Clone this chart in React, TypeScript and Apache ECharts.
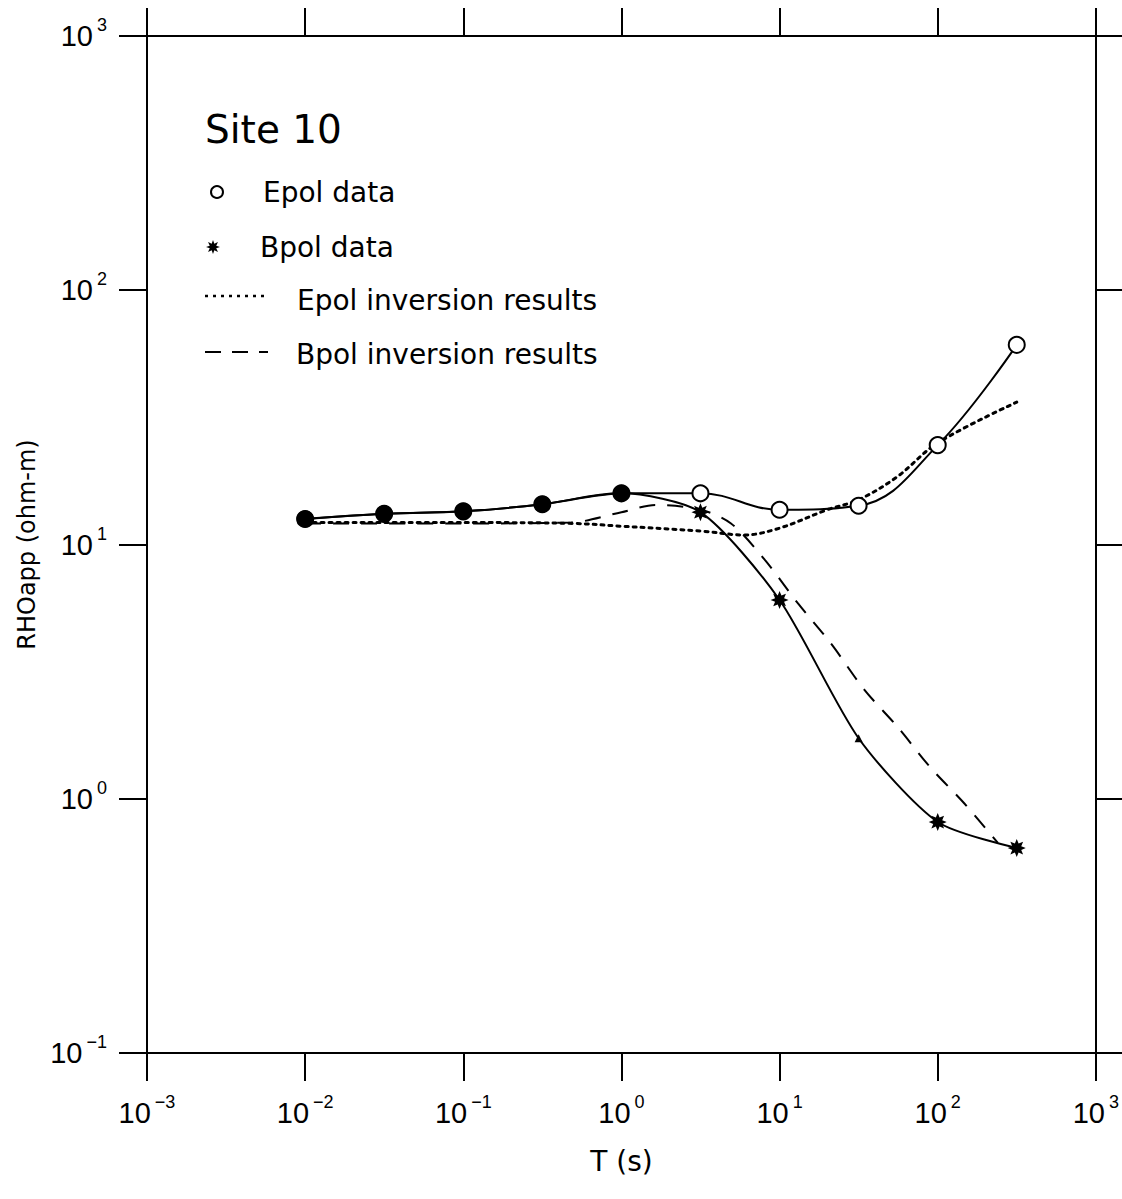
import React, { useEffect, useRef } from "react";
import * as echarts from "echarts";

// ---- data ----
const periods = [0.01, 0.0316, 0.1, 0.316, 1, 3.16, 10, 31.6, 100, 316];
const epolRho = [12.6, 13.2, 13.5, 14.4, 15.9, 15.9, 13.7, 14.2, 24.6, 61];
const bpolRho = [12.6, 13.2, 13.5, 14.4, 15.9, 13.4, 6.05, 1.73, 0.81, 0.64];

const epolInvT = [0.01, 0.1, 0.5, 1, 3.16, 6, 10, 20, 31.6, 55, 100, 316];
const epolInvRho = [12.2, 12.2, 12.1, 11.8, 11.3, 10.9, 11.6, 13.7, 15.0, 18.4, 25.1, 36.3];

const bpolInvT = [0.01, 0.1, 0.48, 1, 1.64, 3.16, 4.93, 8.07, 13, 21, 34.4, 55.6, 89.7, 147, 240];
const bpolInvRho = [12.1, 12.1, 12.2, 13.4, 14.3, 13.7, 12.1, 8.7, 5.89, 4.1, 2.68, 1.92, 1.33, 0.96, 0.67];

const xRange = [0.001, 1000];
const yRange = [0.1, 1000];

const title = "Site 10";
const legendLabels = ["Epol data", "Bpol data", "Epol inversion results", "Bpol inversion results"];
const xName = "T (s)";
const yName = "RHOapp (ohm-m)";

const FONT = "DejaVu Sans";
const TICK_FONT = "Liberation Sans";

const STAR =
  "path://M20 10L15 12.07L17.07 17.07L12.07 15L10 20L7.93 15L2.93 17.07L5 12.07L0 10L5 7.93L2.93 2.93L7.93 5L10 0L12.07 5L17.07 2.93L15 7.93Z";

function starPoints(cx: number, cy: number, R: number, r: number) {
  const pts: number[][] = [];
  for (let i = 0; i < 16; i++) {
    const a = (i * Math.PI) / 8;
    const rad = i % 2 === 0 ? R : r;
    pts.push([cx + rad * Math.cos(a), cy + rad * Math.sin(a)]);
  }
  return pts;
}

const expLabel = (v: number) => {
  const e = Math.round(Math.log10(v));
  const s = e < 0 ? "\u2212" + Math.abs(e) : String(e);
  return `{b|10}{s|${s}}`;
};

const richStyle = {
  b: { fontSize: 29, fontFamily: TICK_FONT, color: "#000", lineHeight: 40 },
  s: { fontSize: 18, fontFamily: TICK_FONT, color: "#000", verticalAlign: "top" as const, padding: [0, 0, 0, 4] },
};

export default function App() {
  const ref = useRef<HTMLDivElement>(null);

  useEffect(() => {
    if (!ref.current) return;
    const chart = echarts.init(ref.current, null, { renderer: "svg" });

    const axisLine = { show: true, lineStyle: { color: "#000", width: 2 } };
    const axisTick = { show: true, inside: false, length: 28, lineStyle: { color: "#000", width: 2 } };

    const xAxisBase = {
      type: "log" as const,
      logBase: 10,
      min: xRange[0],
      max: xRange[1],
      axisLine,
      axisTick,
      splitLine: { show: false },
      minorTick: { show: false },
    };
    const yAxisBase = {
      type: "log" as const,
      logBase: 10,
      min: yRange[0],
      max: yRange[1],
      axisLine,
      axisTick,
      splitLine: { show: false },
      minorTick: { show: false },
    };

    const bpolPoints = periods.map((t, i) => {
      const overlap = epolRho[i] === bpolRho[i];
      if (overlap) {
        return { value: [t, bpolRho[i]], symbol: "circle", symbolSize: 17 };
      }
      if (t === 31.6) {
        return { value: [t, bpolRho[i]], symbol: "triangle", symbolSize: 8 };
      }
      return { value: [t, bpolRho[i]] };
    });

    const legendY = [192, 247, 300, 354];

    chart.setOption({
      animation: false,
      backgroundColor: "#fff",
      grid: { left: 147, top: 36, width: 952, height: 1017, containLabel: false },
      xAxis: [
        {
          ...xAxisBase,
          position: "bottom",
          name: xName,
          nameLocation: "middle",
          nameGap: 94,
          nameTextStyle: { fontSize: 28, fontFamily: FONT, color: "#000" },
          axisLabel: { show: true, margin: 40, formatter: expLabel, rich: richStyle },
        },
        {
          ...xAxisBase,
          position: "top",
          axisLabel: { show: false },
        },
      ],
      yAxis: [
        {
          ...yAxisBase,
          position: "left",
          name: yName,
          nameLocation: "middle",
          nameGap: 102,
          nameTextStyle: { fontSize: 24, fontFamily: FONT, color: "#000" },
          axisLabel: { show: true, margin: 40, formatter: expLabel, rich: richStyle },
        },
        {
          ...yAxisBase,
          position: "right",
          axisLabel: { show: false },
        },
      ],
      series: [
        {
          name: legendLabels[2],
          type: "line",
          data: epolInvT.map((t, i) => [t, epolInvRho[i]]),
          smooth: 0.35,
          showSymbol: false,
          lineStyle: { color: "#000", width: 3, type: [3, 5], cap: "round" },
          z: 2,
        },
        {
          name: legendLabels[3],
          type: "line",
          data: bpolInvT.map((t, i) => [t, bpolInvRho[i]]),
          smooth: 0.3,
          showSymbol: false,
          lineStyle: { color: "#000", width: 2, type: [16, 12] },
          z: 2,
        },
        {
          name: legendLabels[0],
          type: "line",
          data: periods.map((t, i) => [t, epolRho[i]]),
          smooth: 0.4,
          symbol: "circle",
          symbolSize: 16,
          showAllSymbol: true,
          lineStyle: { color: "#000", width: 2 },
          itemStyle: { color: "#fff", borderColor: "#000", borderWidth: 2 },
          z: 3,
        },
        {
          name: legendLabels[1],
          type: "line",
          data: bpolPoints,
          smooth: 0.25,
          symbol: STAR,
          symbolSize: 18,
          showAllSymbol: true,
          lineStyle: { color: "#000", width: 2 },
          itemStyle: { color: "#000", borderWidth: 0 },
          z: 4,
        },
      ],
      graphic: [
        {
          type: "text",
          left: 205,
          top: 132 - 22,
          style: { text: title, font: `39px '${FONT}'`, fill: "#000" },
        },
        {
          type: "circle",
          shape: { cx: 217, cy: legendY[0], r: 6 },
          style: { fill: "none", stroke: "#000", lineWidth: 2 },
        },
        {
          type: "text",
          x: 263,
          y: legendY[0],
          style: { text: legendLabels[0], font: `28px '${FONT}'`, fill: "#000", verticalAlign: "middle" },
        },
        {
          type: "polygon",
          shape: { points: starPoints(213, legendY[1], 7, 3.5) },
          style: { fill: "#000" },
        },
        {
          type: "text",
          x: 260,
          y: legendY[1],
          style: { text: legendLabels[1], font: `28px '${FONT}'`, fill: "#000", verticalAlign: "middle" },
        },
        {
          type: "line",
          shape: { x1: 205, y1: legendY[2] - 4, x2: 268, y2: legendY[2] - 4 },
          style: { stroke: "#000", lineWidth: 2.5, lineDash: [3, 5] },
        },
        {
          type: "text",
          x: 297,
          y: legendY[2],
          style: { text: legendLabels[2], font: `28px '${FONT}'`, fill: "#000", verticalAlign: "middle" },
        },
        {
          type: "line",
          shape: { x1: 205, y1: legendY[3] - 2, x2: 268, y2: legendY[3] - 2 },
          style: { stroke: "#000", lineWidth: 2, lineDash: [16, 11] },
        },
        {
          type: "text",
          x: 296,
          y: legendY[3],
          style: { text: legendLabels[3], font: `28px '${FONT}'`, fill: "#000", verticalAlign: "middle" },
        },
      ],
    });

    return () => chart.dispose();
  }, []);

  return (
    <div
      ref={ref}
      style={{ position: "absolute", left: 0, top: 0, width: 1122, height: 1199, background: "#fff" }}
    />
  );
}
